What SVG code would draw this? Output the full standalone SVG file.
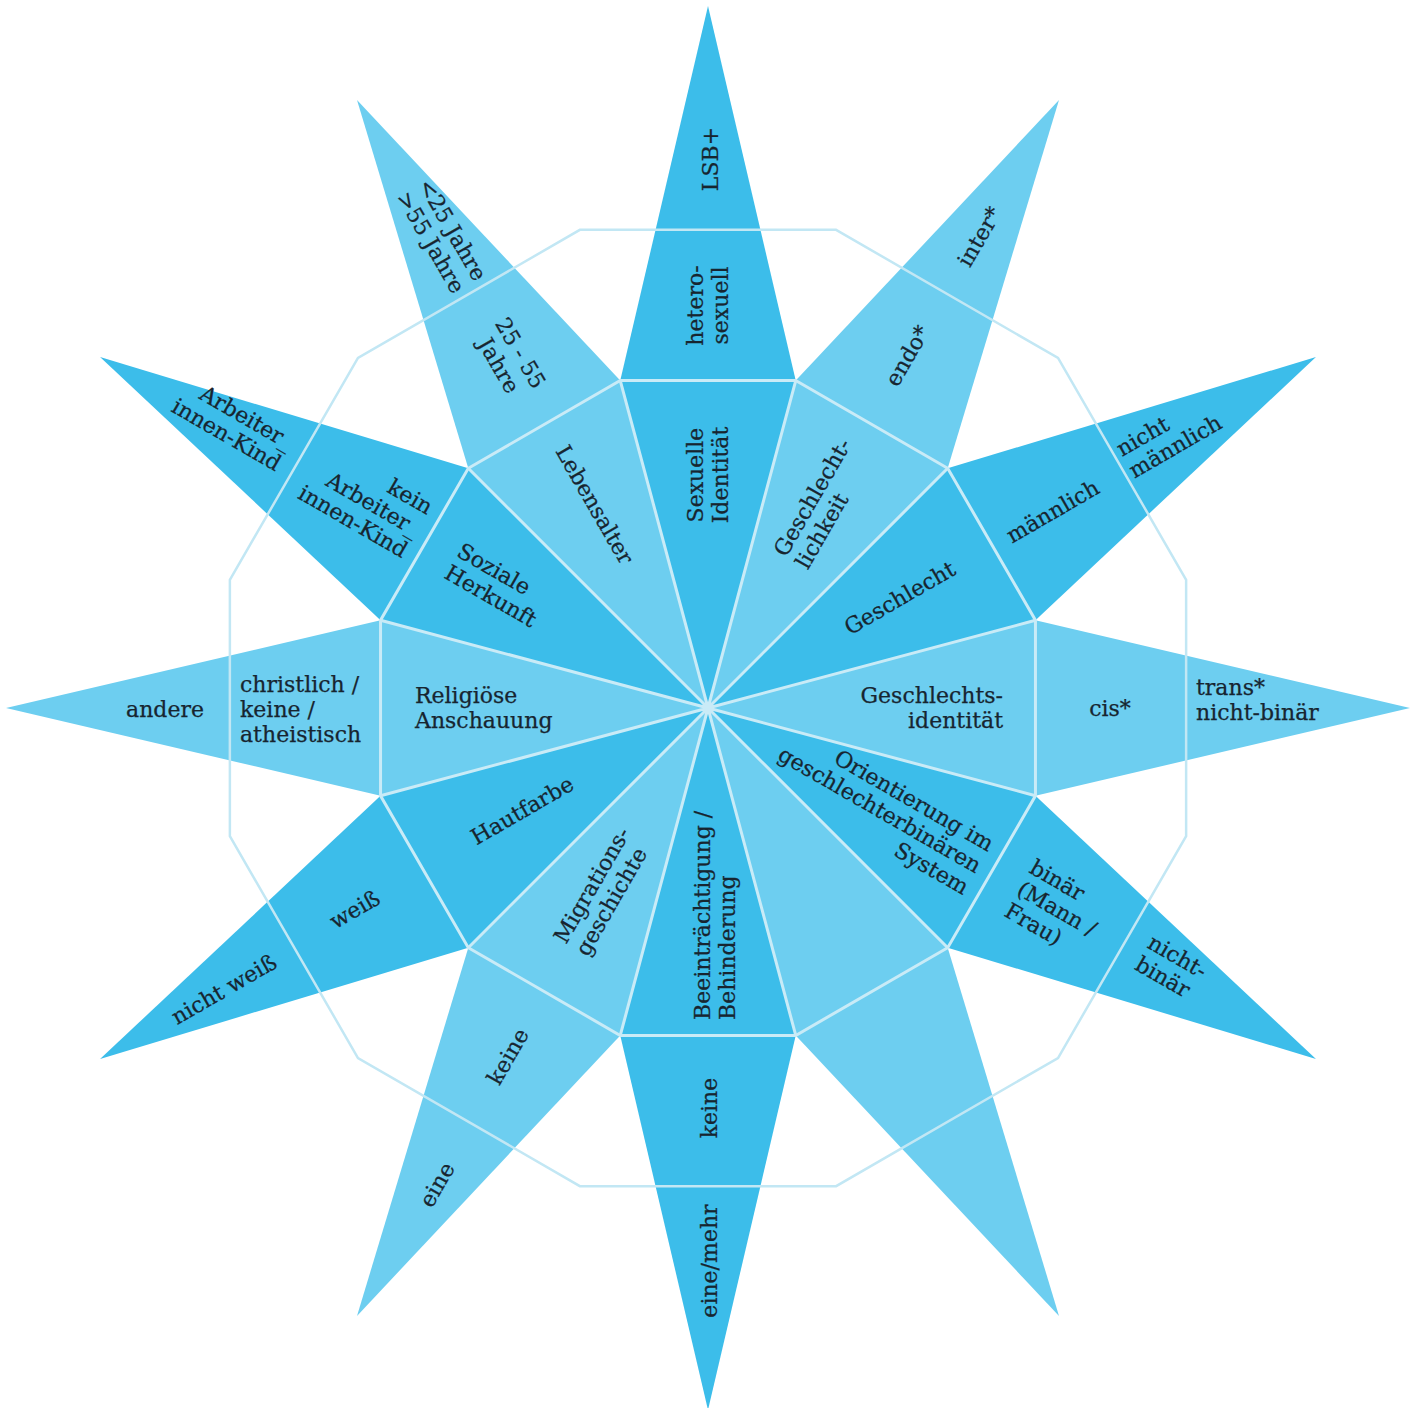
<svg xmlns="http://www.w3.org/2000/svg" width="1417" height="1408" viewBox="0 0 1417 1408">
<style>
.d{fill:#3cbdea}
.l{fill:#6dcef0}
.ln{fill:none;stroke:#c9ebf7;stroke-width:3;stroke-linejoin:miter}
.ol{fill:none;stroke:#c2e7f4;stroke-width:2.5}
text{font-family:"DejaVu Serif","Liberation Serif",serif;font-size:22px;fill:#172530;stroke:#172530;stroke-width:0.25}
.m{text-anchor:middle}
.e{text-anchor:end}
</style>
<rect width="1417" height="1408" fill="#ffffff"/>
<g id="sexuelle-identitaet">
<polygon class="d" points="620.26,380.55 708,6 795.74,380.55"/>
<polygon class="d" points="708,708 620.26,380.55 795.74,380.55"/>
<text transform="rotate(-90 703 475)" class="m"><tspan x="703" y="475">Sexuelle</tspan><tspan x="703" y="500">Identität</tspan></text>
<text transform="rotate(-90 703 305.5)" class="m"><tspan x="703" y="305.5">hetero-</tspan><tspan x="703" y="330.5">sexuell</tspan></text>
<text x="718" y="159" transform="rotate(-90 718 159)" class="m">LSB+</text>
</g>
<g id="geschlechtlichkeit">
<polygon class="l" points="795.74,380.55 1059,100.05 947.71,468.29"/>
<polygon class="l" points="708,708 795.74,380.55 947.71,468.29"/>
<text transform="rotate(-60 786 558)"><tspan x="786" y="558">Geschlecht-</tspan><tspan x="786" y="583">lichkeit</tspan></text>
<text x="914" y="359.5" transform="rotate(-60 914 359.5)" class="m">endo*</text>
<text x="986" y="240.5" transform="rotate(-60 986 240.5)" class="m">inter*</text>
</g>
<g id="geschlecht">
<polygon class="d" points="947.71,468.29 1315.95,357 1035.45,620.26"/>
<polygon class="d" points="708,708 947.71,468.29 1035.45,620.26"/>
<text x="903.5" y="604.6" transform="rotate(-30 903.5 604.6)" class="m">Geschlecht</text>
<text x="1056.5" y="518" transform="rotate(-30 1056.5 518)" class="m">männlich</text>
<text transform="rotate(-30 1122 457)"><tspan x="1122" y="457">nicht</tspan><tspan x="1122" y="482">männlich</tspan></text>
</g>
<g id="geschlechtsidentitaet">
<polygon class="l" points="1035.45,620.26 1410,708 1035.45,795.74"/>
<polygon class="l" points="708,708 1035.45,620.26 1035.45,795.74"/>
<text class="e"><tspan x="1003" y="703">Geschlechts-</tspan><tspan x="1003" y="728">identität</tspan></text>
<text x="1110" y="716" class="m">cis*</text>
<text><tspan x="1196" y="695">trans*</tspan><tspan x="1196" y="720">nicht-binär</tspan></text>
</g>
<g id="orientierung">
<polygon class="d" points="1035.45,795.74 1315.95,1059 947.71,947.71"/>
<polygon class="d" points="708,708 1035.45,795.74 947.71,947.71"/>
<text transform="rotate(30 988 852)" class="e"><tspan x="988" y="852">Orientierung im</tspan><tspan x="988" y="877">geschlechterbinären</tspan><tspan x="988" y="902">System</tspan></text>
<text transform="rotate(30 1028 872)"><tspan x="1028" y="872">binär</tspan><tspan x="1028" y="897">(Mann /</tspan><tspan x="1028" y="922">Frau)</tspan></text>
<text transform="rotate(30 1146 947)"><tspan x="1146" y="947">nicht-</tspan><tspan x="1146" y="972">binär</tspan></text>
</g>
<g id="leer">
<polygon class="l" points="947.71,947.71 1059,1315.95 795.74,1035.45"/>
<polygon class="l" points="708,708 947.71,947.71 795.74,1035.45"/>
</g>
<g id="beeintraechtigung">
<polygon class="d" points="795.74,1035.45 708,1410 620.26,1035.45"/>
<polygon class="d" points="708,708 795.74,1035.45 620.26,1035.45"/>
<text transform="rotate(-90 710 1020)"><tspan x="710" y="1020">Beeinträchtigung /</tspan><tspan x="710" y="1045">Behinderung</tspan></text>
<text x="717" y="1108" transform="rotate(-90 717 1108)" class="m">keine</text>
<text x="717" y="1261" transform="rotate(-90 717 1261)" class="m">eine/mehr</text>
</g>
<g id="migrationsgeschichte">
<polygon class="l" points="620.26,1035.45 357,1315.95 468.29,947.71"/>
<polygon class="l" points="708,708 620.26,1035.45 468.29,947.71"/>
<text transform="rotate(-60 566 945)"><tspan x="566" y="945">Migrations-</tspan><tspan x="566" y="970">geschichte</tspan></text>
<text x="514.4" y="1060.2" transform="rotate(-60 514.4 1060.2)" class="m">keine</text>
<text x="443.6" y="1188.5" transform="rotate(-60 443.6 1188.5)" class="m">eine</text>
</g>
<g id="hautfarbe">
<polygon class="d" points="468.29,947.71 100.05,1059 380.55,795.74"/>
<polygon class="d" points="708,708 468.29,947.71 380.55,795.74"/>
<text x="526" y="817" transform="rotate(-30 526 817)" class="m">Hautfarbe</text>
<text x="358.5" y="916" transform="rotate(-30 358.5 916)" class="m">weiß</text>
<text x="227.7" y="996" transform="rotate(-30 227.7 996)" class="m">nicht weiß</text>
</g>
<g id="religioese-anschauung">
<polygon class="l" points="380.55,795.74 6,708 380.55,620.26"/>
<polygon class="l" points="708,708 380.55,795.74 380.55,620.26"/>
<text><tspan x="415" y="703">Religiöse</tspan><tspan x="415" y="728">Anschauung</tspan></text>
<text><tspan x="240" y="691.5">christlich /</tspan><tspan x="240" y="716.5">keine /</tspan><tspan x="240" y="741.5">atheistisch</tspan></text>
<text x="165" y="716.5" class="m">andere</text>
</g>
<g id="soziale-herkunft">
<polygon class="d" points="380.55,620.26 100.05,357 468.29,468.29"/>
<polygon class="d" points="708,708 380.55,620.26 468.29,468.29"/>
<text transform="rotate(30 455.6 555.5)"><tspan x="455.6" y="555.5">Soziale</tspan><tspan x="455.6" y="580.5">Herkunft</tspan></text>
<text transform="rotate(30 427 515)" class="e"><tspan x="427" y="515">kein</tspan><tspan x="427" y="540">Arbeiter_</tspan><tspan x="427" y="565">innen-Kind</tspan></text>
<text transform="rotate(30 288 450)" class="e"><tspan x="288" y="450">Arbeiter_</tspan><tspan x="288" y="475">innen-Kind</tspan></text>
</g>
<g id="lebensalter">
<polygon class="l" points="468.29,468.29 357,100.05 620.26,380.55"/>
<polygon class="l" points="708,708 468.29,468.29 620.26,380.55"/>
<text x="588.1" y="508.5" transform="rotate(60 588.1 508.5)" class="m">Lebensalter</text>
<text transform="rotate(60 513.9 356.8)" class="m"><tspan x="513.9" y="356.8">25 - 55</tspan><tspan x="513.9" y="381.8">Jahre</tspan></text>
<text transform="rotate(60 446 233.5)" class="m"><tspan x="446" y="233.5">&lt;25 Jahre</tspan><tspan x="446" y="258.5">&gt;55 Jahre</tspan></text>
</g>
<g id="lines">
<polygon class="ol" points="836.12,229.87 1058.02,357.98 1186.13,579.88 1186.13,836.12 1058.02,1058.02 836.12,1186.13 579.88,1186.13 357.98,1058.02 229.87,836.12 229.87,579.88 357.98,357.98 579.88,229.87"/>
<polygon class="ln" points="795.74,380.55 947.71,468.29 1035.45,620.26 1035.45,795.74 947.71,947.71 795.74,1035.45 620.26,1035.45 468.29,947.71 380.55,795.74 380.55,620.26 468.29,468.29 620.26,380.55"/>
<path class="ln" d="M708,708L795.74,380.55M708,708L947.71,468.29M708,708L1035.45,620.26M708,708L1035.45,795.74M708,708L947.71,947.71M708,708L795.74,1035.45M708,708L620.26,1035.45M708,708L468.29,947.71M708,708L380.55,795.74M708,708L380.55,620.26M708,708L468.29,468.29M708,708L620.26,380.55"/>
</g>
</svg>
